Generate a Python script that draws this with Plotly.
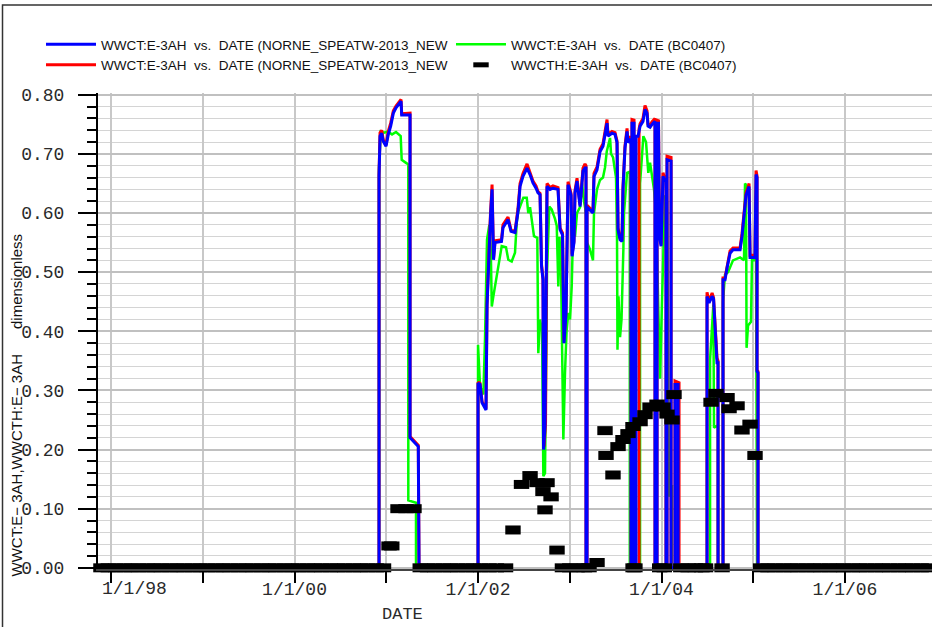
import plotly.graph_objects as go

# x values are decimal years, y values are water cut (dimensionless)

# WWCT:E-3AH simulated, NORNE_SPEATW-2013_NEW (blue)
blue_pts = [
    (1997.86, 0), (2000.921, 0), (2000.921, 0.662), (2000.932, 0.730), (2000.950, 0.735),
    (2000.968, 0.721), (2000.997, 0.713), (2001.022, 0.733), (2001.048, 0.747), (2001.077, 0.769),
    (2001.106, 0.778), (2001.131, 0.783), (2001.161, 0.789), (2001.168, 0.766), (2001.259, 0.766),
    (2001.259, 0.220), (2001.349, 0.205), (2001.357, 0),
    (2002.000, 0), (2002.000, 0.312), (2002.022, 0.310), (2002.044, 0.279), (2002.087, 0.267),
    (2002.098, 0.442), (2002.120, 0.538), (2002.136, 0.594), (2002.153, 0.640), (2002.169, 0.521),
    (2002.185, 0.550), (2002.256, 0.552), (2002.272, 0.575), (2002.327, 0.589), (2002.360, 0.569),
    (2002.403, 0.567), (2002.436, 0.603), (2002.458, 0.645), (2002.490, 0.662), (2002.534, 0.676),
    (2002.567, 0.665), (2002.599, 0.651), (2002.632, 0.642), (2002.654, 0.634), (2002.676, 0.631),
    (2002.692, 0.510), (2002.708, 0.487), (2002.714, 0.200), (2002.730, 0.239), (2002.752, 0.645),
    (2002.785, 0.640), (2002.817, 0.642), (2002.872, 0.640), (2002.894, 0.572), (2002.921, 0.563),
    (2002.937, 0.380), (2002.959, 0.430), (2002.981, 0.648), (2003.014, 0.630), (2003.025, 0.527),
    (2003.046, 0.550), (2003.057, 0.634), (2003.079, 0.654), (2003.101, 0.620), (2003.112, 0.611),
    (2003.144, 0.671), (2003.166, 0.676), (2003.177, 0.676), (2003.177, 0), (2003.188, 0),
    (2003.188, 0.610), (2003.253, 0.600), (2003.264, 0.662), (2003.297, 0.673), (2003.330, 0.704),
    (2003.362, 0.713), (2003.395, 0.741), (2003.406, 0.752), (2003.417, 0.730), (2003.460, 0.735),
    (2003.493, 0.733), (2003.515, 0.719), (2003.526, 0.572), (2003.548, 0.555), (2003.569, 0.552),
    (2003.580, 0.640), (2003.602, 0.710), (2003.624, 0.738), (2003.635, 0.719), (2003.657, 0.724),
    (2003.668, 0.724), (2003.668, 0), (2003.678, 0), (2003.678, 0.752), (2003.700, 0.752),
    (2003.700, 0), (2003.722, 0), (2003.722, 0.730), (2003.744, 0.730), (2003.766, 0.747),
    (2003.798, 0.755), (2003.820, 0.775), (2003.842, 0.769), (2003.853, 0.747), (2003.875, 0.745),
    (2003.896, 0.750), (2003.929, 0.755), (2003.929, 0), (2003.951, 0), (2003.951, 0.752),
    (2003.967, 0.752), (2003.978, 0.561), (2003.995, 0.544), (2004.016, 0.662), (2004.038, 0.655),
    (2004.049, 0.655), (2004.049, 0), (2004.060, 0), (2004.060, 0.690), (2004.104, 0.688),
    (2004.104, 0), (2004.147, 0), (2004.147, 0.310), (2004.180, 0.310), (2004.180, 0),
    (2004.496, 0), (2004.496, 0.459), (2004.518, 0.448), (2004.551, 0.459), (2004.567, 0.455),
    (2004.605, 0.347), (2004.616, 0.347), (2004.616, 0), (2004.670, 0), (2004.670, 0.487),
    (2004.692, 0.487), (2004.714, 0.507), (2004.747, 0.532), (2004.779, 0.538), (2004.856, 0.538),
    (2004.877, 0.560), (2004.899, 0.600), (2004.921, 0.630), (2004.943, 0.640), (2004.954, 0.645),
    (2004.965, 0.525), (2005.019, 0.525), (2005.030, 0.665), (2005.041, 0.660), (2005.041, 0.332),
    (2005.052, 0.330), (2005.052, 0), (2006.99, 0),
]

# WWCT:E-3AH simulated, second NORNE_SPEATW-2013_NEW run (red)
red_pts = [
    (1997.86, 0), (2000.921, 0), (2000.921, 0.665), (2000.932, 0.736), (2000.950, 0.740),
    (2000.968, 0.723), (2000.997, 0.715), (2001.022, 0.738), (2001.048, 0.752), (2001.077, 0.773),
    (2001.106, 0.781), (2001.131, 0.786), (2001.161, 0.792), (2001.168, 0.768), (2001.259, 0.769),
    (2001.259, 0.222), (2001.349, 0.207), (2001.357, 0),
    (2002.000, 0), (2002.000, 0.314), (2002.022, 0.312), (2002.044, 0.281), (2002.087, 0.269),
    (2002.098, 0.446), (2002.120, 0.542), (2002.136, 0.600), (2002.153, 0.648), (2002.169, 0.523),
    (2002.185, 0.553), (2002.256, 0.555), (2002.272, 0.580), (2002.327, 0.593), (2002.360, 0.571),
    (2002.403, 0.569), (2002.436, 0.608), (2002.458, 0.650), (2002.490, 0.667), (2002.534, 0.683),
    (2002.567, 0.668), (2002.599, 0.654), (2002.632, 0.646), (2002.654, 0.636), (2002.676, 0.633),
    (2002.692, 0.513), (2002.708, 0.490), (2002.720, 0.205), (2002.736, 0.245), (2002.752, 0.650),
    (2002.785, 0.643), (2002.817, 0.646), (2002.872, 0.643), (2002.894, 0.575), (2002.921, 0.566),
    (2002.937, 0.385), (2002.959, 0.433), (2002.981, 0.653), (2003.014, 0.633), (2003.025, 0.530),
    (2003.046, 0.553), (2003.057, 0.638), (2003.079, 0.659), (2003.101, 0.623), (2003.112, 0.614),
    (2003.144, 0.676), (2003.166, 0.683), (2003.177, 0.680), (2003.177, 0), (2003.188, 0),
    (2003.188, 0.613), (2003.253, 0.603), (2003.264, 0.667), (2003.297, 0.678), (2003.330, 0.708),
    (2003.362, 0.717), (2003.395, 0.746), (2003.406, 0.758), (2003.417, 0.733), (2003.460, 0.738),
    (2003.493, 0.736), (2003.515, 0.722), (2003.526, 0.575), (2003.548, 0.558), (2003.569, 0.555),
    (2003.580, 0.644), (2003.602, 0.714), (2003.624, 0.743), (2003.635, 0.722), (2003.657, 0.728),
    (2003.668, 0.728), (2003.668, 0), (2003.678, 0), (2003.678, 0.758), (2003.700, 0.757),
    (2003.700, 0), (2003.755, 0), (2003.755, 0.742), (2003.766, 0.751),
    (2003.798, 0.760), (2003.820, 0.782), (2003.842, 0.773), (2003.853, 0.750), (2003.875, 0.748),
    (2003.896, 0.754), (2003.929, 0.760), (2003.929, 0), (2003.951, 0), (2003.951, 0.757),
    (2003.967, 0.756), (2003.978, 0.564), (2003.995, 0.547), (2004.016, 0.668), (2004.038, 0.658),
    (2004.049, 0.658), (2004.049, 0), (2004.060, 0), (2004.060, 0.696), (2004.104, 0.694),
    (2004.104, 0), (2004.147, 0), (2004.147, 0.316), (2004.191, 0.313), (2004.191, 0),
    (2004.496, 0), (2004.496, 0.466), (2004.518, 0.450), (2004.551, 0.465), (2004.567, 0.457),
    (2004.605, 0.355), (2004.616, 0.350), (2004.616, 0), (2004.670, 0), (2004.670, 0.490),
    (2004.692, 0.490), (2004.714, 0.510), (2004.747, 0.536), (2004.779, 0.541), (2004.856, 0.541),
    (2004.877, 0.565), (2004.899, 0.604), (2004.921, 0.634), (2004.943, 0.644), (2004.954, 0.650),
    (2004.965, 0.528), (2005.019, 0.529), (2005.030, 0.672), (2005.041, 0.663), (2005.041, 0.335),
    (2005.052, 0.332), (2005.052, 0), (2006.99, 0),
]

# WWCT:E-3AH simulated, BC0407 (green)
green_pts = [
    (1997.86, 0), (2000.921, 0), (2000.921, 0.677), (2000.940, 0.738), (2000.975, 0.736),
    (2001.019, 0.738), (2001.063, 0.733), (2001.106, 0.737), (2001.157, 0.730), (2001.168, 0.690),
    (2001.223, 0.684), (2001.240, 0.682), (2001.240, 0.114), (2001.313, 0.110), (2001.324, 0.110),
    (2001.324, 0),
    (2002.000, 0), (2002.000, 0.377), (2002.022, 0.307), (2002.058, 0.293), (2002.076, 0.386),
    (2002.098, 0.555), (2002.123, 0.580), (2002.139, 0.538), (2002.150, 0.442), (2002.167, 0.459),
    (2002.185, 0.476), (2002.221, 0.515), (2002.258, 0.544), (2002.305, 0.542), (2002.330, 0.521),
    (2002.367, 0.518), (2002.403, 0.533), (2002.422, 0.584), (2002.439, 0.603), (2002.494, 0.626),
    (2002.531, 0.626), (2002.548, 0.600), (2002.567, 0.610), (2002.610, 0.561), (2002.646, 0.558),
    (2002.657, 0.363), (2002.676, 0.420), (2002.698, 0.400), (2002.712, 0.155), (2002.730, 0.160),
    (2002.752, 0.500), (2002.777, 0.611), (2002.803, 0.606), (2002.839, 0.590), (2002.858, 0.578),
    (2002.875, 0.476), (2002.888, 0.560), (2002.905, 0.500), (2002.912, 0.386), (2002.930, 0.217),
    (2002.948, 0.330), (2002.965, 0.400), (2002.984, 0.431), (2003.003, 0.420), (2003.021, 0.476),
    (2003.039, 0.589), (2003.057, 0.560), (2003.079, 0.600), (2003.112, 0.610), (2003.134, 0.650),
    (2003.155, 0.620), (2003.177, 0.600), (2003.188, 0.550), (2003.221, 0.538), (2003.253, 0.520),
    (2003.264, 0.600), (2003.297, 0.640), (2003.330, 0.656), (2003.362, 0.660), (2003.384, 0.677),
    (2003.403, 0.704), (2003.439, 0.727), (2003.450, 0.700), (2003.472, 0.694), (2003.504, 0.660),
    (2003.515, 0.555), (2003.520, 0.369), (2003.531, 0.459), (2003.548, 0.390), (2003.564, 0.420),
    (2003.584, 0.538), (2003.591, 0.600), (2003.624, 0.668), (2003.644, 0.670), (2003.654, 0.670),
    (2003.654, 0), (2003.766, 0), (2003.766, 0.650), (2003.802, 0.730), (2003.831, 0.720),
    (2003.856, 0.668), (2003.875, 0.685), (2003.896, 0.660), (2003.918, 0.640), (2003.940, 0.600),
    (2003.962, 0.450), (2003.984, 0.320), (2004.005, 0.450), (2004.016, 0.520), (2004.038, 0.630),
    (2004.060, 0.620), (2004.071, 0.300), (2004.082, 0.120), (2004.093, 0.200), (2004.104, 0.120),
    (2004.114, 0.140), (2004.114, 0),
    (2004.529, 0), (2004.529, 0.352), (2004.565, 0.445), (2004.572, 0.237), (2004.600, 0.240),
    (2004.616, 0.240), (2004.616, 0), (2004.670, 0), (2004.670, 0.450), (2004.692, 0.496),
    (2004.725, 0.500), (2004.779, 0.520), (2004.856, 0.525), (2004.899, 0.520), (2004.910, 0.650),
    (2004.921, 0.648), (2004.927, 0.372), (2004.943, 0.410), (2004.975, 0.416), (2004.986, 0.520),
    (2005.030, 0.520), (2005.041, 0), (2006.99, 0),
]

# WWCTH:E-3AH observed, BC0407 (black squares)
obs_zero_years = [
    1997.89, 1997.97, 1998.05, 1998.14, 1998.22, 1998.30, 1998.39, 1998.47, 1998.55, 1998.64,
    1998.72, 1998.80, 1998.89, 1998.97, 1999.05, 1999.14, 1999.22, 1999.30, 1999.39, 1999.47,
    1999.55, 1999.64, 1999.72, 1999.80, 1999.89, 1999.97, 2000.05, 2000.14, 2000.22, 2000.30,
    2000.39, 2000.47, 2000.55, 2000.64, 2000.72, 2000.80, 2000.89, 2000.97,
    2001.37, 2001.45, 2001.53, 2001.62, 2001.70, 2001.78, 2001.87, 2001.95, 2002.03, 2002.12,
    2002.20, 2002.30,
    2002.92, 2003.00, 2003.08, 2003.16, 2003.21,
    2003.69, 2003.71,
    2003.98, 2004.03,
    2004.21, 2004.29, 2004.37, 2004.44, 2004.48,
    2004.66,
    2005.08, 2005.16, 2005.24, 2005.33, 2005.41, 2005.49, 2005.58, 2005.66, 2005.74, 2005.83,
    2005.91, 2005.99, 2006.08, 2006.16, 2006.24, 2006.33, 2006.41, 2006.49, 2006.58, 2006.66,
    2006.74, 2006.83, 2006.91, 2006.99,
]
obs_pts = [
    (2001.03, 0.037), (2001.06, 0.037), (2001.128, 0.100), (2001.215, 0.100), (2001.302, 0.100),
    (2002.381, 0.064), (2002.474, 0.141), (2002.567, 0.156), (2002.643, 0.144), (2002.708, 0.129),
    (2002.752, 0.144), (2002.796, 0.120), (2002.730, 0.098), (2002.861, 0.030), (2003.297, 0.009),
    (2003.384, 0.232), (2003.395, 0.190), (2003.471, 0.157), (2003.526, 0.205), (2003.580, 0.217),
    (2003.635, 0.227), (2003.689, 0.239), (2003.766, 0.247), (2003.820, 0.259), (2003.875, 0.272),
    (2003.951, 0.277), (2004.016, 0.272), (2004.060, 0.260), (2004.114, 0.250), (2004.136, 0.293),
    (2004.540, 0.280), (2004.594, 0.295), (2004.714, 0.288), (2004.736, 0.269), (2004.823, 0.274),
    (2004.877, 0.233), (2004.965, 0.243), (2005.019, 0.190),
]

year_ticks = [1998, 1999, 2000, 2001, 2002, 2003, 2004, 2005, 2006]
year_labels = ["", "", "1/1/00", "", "1/1/02", "", "1/1/04", "", "1/1/06"]
y_ticks = [0.0, 0.1, 0.2, 0.3, 0.4, 0.5, 0.6, 0.7, 0.8]


def xs(pts):
    return [p[0] for p in pts]


def ys(pts):
    return [p[1] for p in pts]


sp = "\u00a0"
name_new = "WWCT:E-3AH" + sp * 2 + "vs." + sp * 2 + "DATE (NORNE_SPEATW-2013_NEW"
name_bc = "WWCT:E-3AH" + sp * 2 + "vs." + sp * 2 + "DATE (BC0407)"
name_obs = "WWCTH:E-3AH" + sp * 2 + "vs." + sp * 2 + "DATE (BC0407)"

obs_x = obs_zero_years + xs(obs_pts)
obs_y = [0] * len(obs_zero_years) + ys(obs_pts)

fig = go.Figure()
fig.add_trace(go.Scatter(x=xs(green_pts), y=ys(green_pts), mode="lines", name=name_bc,
                         line=dict(color="#00ff00", width=2.5), legendrank=2))
fig.add_trace(go.Scatter(x=xs(red_pts), y=ys(red_pts), mode="lines", name=name_new,
                         line=dict(color="#ff0000", width=3), legendrank=3))
fig.add_trace(go.Scatter(x=xs(blue_pts), y=ys(blue_pts), mode="lines", name=name_new,
                         line=dict(color="#0000ff", width=3), legendrank=1))
fig.add_trace(go.Scatter(x=obs_x, y=obs_y, mode="markers", name=name_obs, cliponaxis=False,
                         marker=dict(symbol="line-ew", size=11,
                                     line=dict(color="black", width=9)),
                         legendrank=4))

tick_font = dict(family="Liberation Mono", size=18, color="#2a2a2a")

fig.update_layout(
    width=932, height=627,
    margin=dict(l=98, r=0, t=93, b=58),
    paper_bgcolor="white", plot_bgcolor="white",
    font=dict(family="Liberation Sans", size=13, color="#111"),
    showlegend=True,
    legend=dict(orientation="h", xref="container", yref="container",
                x=41 / 932, y=1 - 29 / 627, xanchor="left", yanchor="top",
                entrywidth=345, itemwidth=50, tracegroupgap=0,
                font=dict(family="Liberation Sans", size=13.5, color="#111"),
                bgcolor="rgba(0,0,0,0)"),
    xaxis=dict(range=[1997.858, 2006.948], tickmode="array", tickvals=year_ticks,
               ticktext=year_labels, ticks="outside", ticklen=12, tickwidth=2,
               tickcolor="black", showline=True, linecolor="#444", linewidth=1.5,
               showgrid=True, gridcolor="#c8c8c8", gridwidth=2, zeroline=False,
               ticklabelstandoff=-9, tickfont=tick_font),
    yaxis=dict(range=[-0.002, 0.803], tickmode="array", tickvals=y_ticks,
               tickformat=".2f", ticks="outside", ticklen=18, tickwidth=2,
               tickcolor="black", showline=True, linecolor="black", linewidth=2,
               showgrid=True, gridcolor="#c0c0c0", gridwidth=2, zeroline=False,
               ticklabelstandoff=10, tickfont=tick_font,
               minor=dict(dtick=0.02, tick0=0, ticks="outside", ticklen=9, tickwidth=1.5,
                          tickcolor="black", showgrid=True, gridcolor="#d4d4d4",
                          gridwidth=1)),
    shapes=[dict(type="rect", xref="paper", yref="paper", x0=-0.1145, x1=1.02,
                 y0=-0.2, y1=1.185, line=dict(color="#333", width=1.5),
                 fillcolor="rgba(0,0,0,0)", layer="above")],
    annotations=[
        dict(text="1/1/98", x=1998, xref="x", y=-0.042, yref="paper", xshift=23,
             showarrow=False, font=tick_font, xanchor="center", yanchor="middle"),
        dict(text="DATE", x=0.3657, xref="paper", y=-0.0966, yref="paper",
             showarrow=False, font=dict(family="Liberation Mono", size=17, color="#2a2a2a"),
             xanchor="center", yanchor="middle"),
        dict(text="WWCT:E\u2212 3AH,WWCTH:E\u2212 3AH" + sp * 6 + "dimensionless",
             x=-0.0983, xref="paper", y=0.3435, yref="paper", textangle=-90,
             showarrow=False, font=dict(family="Liberation Sans", size=15, color="#111"),
             xanchor="center", yanchor="middle"),
    ],
)

# the page has a default 8px body margin; drop it so the figure sits at the top-left corner
fig.write_html("out.html", config={"displayModeBar": False},
               post_script="document.body.style.margin = '0';")
